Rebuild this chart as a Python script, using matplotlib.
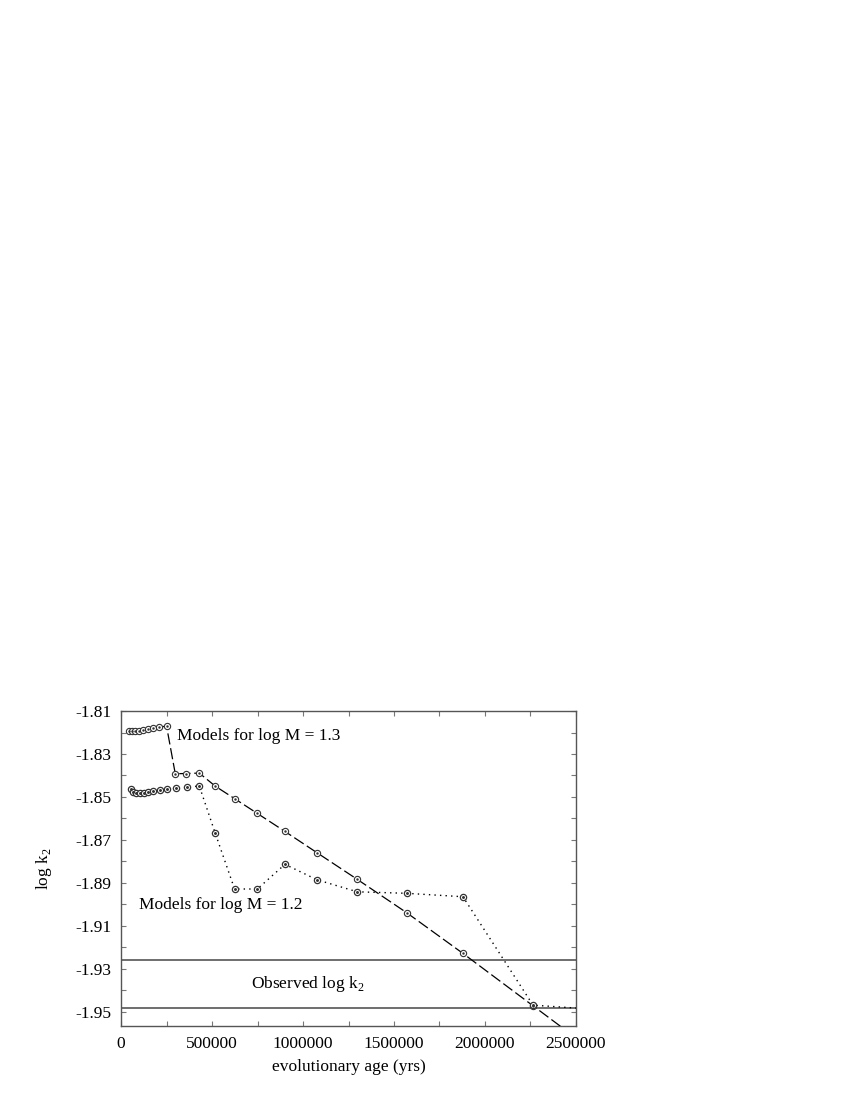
import matplotlib
matplotlib.use('Agg')
import matplotlib.pyplot as plt
from matplotlib.ticker import FixedLocator

plt.rcParams['font.family'] = ['Liberation Serif', 'DejaVu Serif']
plt.rcParams['axes.unicode_minus'] = False
plt.rcParams['mathtext.fontset'] = 'custom'
plt.rcParams['mathtext.rm'] = 'Liberation Serif'

# Models for log M = 1.3 (dashed)
age_13 = [46000, 62000, 78000, 96000, 118000, 146000, 176000, 210000, 250000,
          298000, 357000, 430000, 518000, 624000, 749000, 901000, 1077000,
          1298000, 1569000, 1879000, 2264000, 2700000]
logk2_13 = [-1.8192, -1.8194, -1.8193, -1.8191, -1.8188, -1.8184, -1.8179, -1.8175, -1.8170,
            -1.8392, -1.8391, -1.8389, -1.8450, -1.8508, -1.8577, -1.8661, -1.8760,
            -1.8884, -1.9039, -1.9229, -1.9473, -1.9749]

# Models for log M = 1.2 (dotted)
age_12 = [53000, 68000, 84000, 102000, 124000, 150000, 178000, 212000, 254000,
          301000, 364000, 430000, 518000, 624000, 749000, 901000, 1077000,
          1298000, 1569000, 1879000, 2264000, 2700000]
logk2_12 = [-1.8462, -1.8478, -1.8483, -1.8483, -1.8480, -1.8477, -1.8473, -1.8470, -1.8465,
            -1.8460, -1.8455, -1.8449, -1.8670, -1.8929, -1.8929, -1.8814, -1.8886,
            -1.8942, -1.8949, -1.8965, -1.9470, -1.9495]

# observed band
obs_upper = -1.9262
obs_lower = -1.9484

x_ticks = [0, 500000, 1000000, 1500000, 2000000, 2500000]
x_minor = [250000, 750000, 1250000, 1750000, 2250000]
y_ticks = [-1.95, -1.93, -1.91, -1.89, -1.87, -1.85, -1.83, -1.81]
y_minor = [-1.94, -1.92, -1.90, -1.88, -1.86, -1.84, -1.82]

fig = plt.figure(figsize=(8.5, 11), dpi=100)
ax = fig.add_axes([0.1424, 0.0673, 0.5352, 0.2863])

ax.axhline(obs_upper, color='#555555', linewidth=1.2, zorder=1)
ax.axhline(obs_lower, color='#555555', linewidth=1.2, zorder=1)

ax.plot(age_13, logk2_13, color='black', linewidth=0.9, dashes=(9, 3),
        marker='o', markersize=4.5, markerfacecolor='white',
        markeredgecolor='#333333', markeredgewidth=0.8, zorder=3)
ax.plot(age_13, logk2_13, linestyle='none', marker='.', markersize=1.5,
        color='#333333', zorder=4)

ax.plot(age_12, logk2_12, color='black', linewidth=1.0, dashes=(1, 3),
        marker='o', markersize=4.5, markerfacecolor='white',
        markeredgecolor='#333333', markeredgewidth=0.9, zorder=3)
ax.plot(age_12, logk2_12, linestyle='none', marker='.', markersize=2.2,
        color='#333333', zorder=4)

ax.text(306000, -1.8215, 'Models for log M = 1.3', fontsize=12.5, va='center', ha='left')
ax.text(100000, -1.9005, 'Models for log M = 1.2', fontsize=12.5, va='center', ha='left')
ax.text(715000, -1.9372, 'Observed log k$_2$', fontsize=12.5, va='center', ha='left')

ax.set_xlim(0, 2500000)
ax.set_ylim(-1.9567, -1.8100)

ax.xaxis.set_major_locator(FixedLocator(x_ticks))
ax.xaxis.set_minor_locator(FixedLocator(x_minor))
ax.set_xticklabels([str(v) for v in x_ticks])
ax.yaxis.set_major_locator(FixedLocator(y_ticks))
ax.yaxis.set_minor_locator(FixedLocator(y_minor))
ax.set_yticklabels(['%.2f' % v for v in y_ticks])

ax.tick_params(which='both', direction='in', length=3.3, width=0.8, color='#777777',
               top=True, right=True, labelsize=12.5, pad=7)

for s in ax.spines.values():
    s.set_color('#555555')
    s.set_linewidth(1.0)

ax.set_xlabel('evolutionary age (yrs)', fontsize=12.5)
ax.xaxis.set_label_coords(0.5, -0.105)
ax.set_ylabel('log k$_2$', fontsize=12.5)
ax.yaxis.set_label_coords(-0.148, 0.5)

fig.savefig('out.png', dpi=100)
